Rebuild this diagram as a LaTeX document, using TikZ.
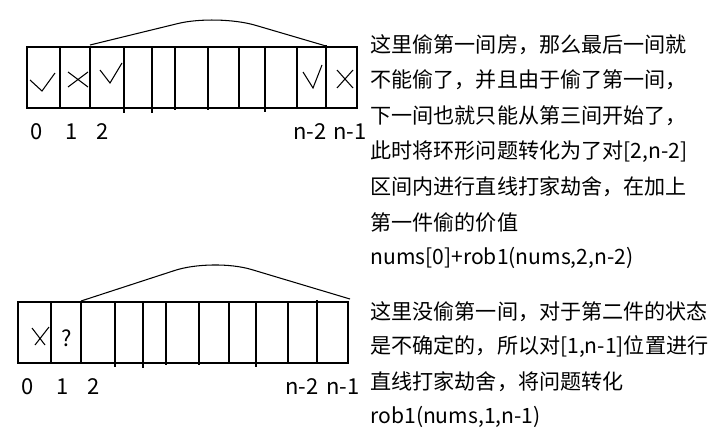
\documentclass[tikz,border=0pt]{standalone}
\usepackage{fontspec}
\setmainfont{Noto Sans CJK SC}
\usetikzlibrary{positioning}

\begin{document}
\begin{tikzpicture}[x=0.02cm,y=-0.02cm,line width=0.6pt,
    idx/.style={font=\fontsize{12.5}{14}\selectfont,inner sep=0pt},
    note/.style={anchor=west,font=\fontsize{12}{14}\selectfont,inner sep=0pt}]
  \useasboundingbox (0,0) rectangle (719,436);
  % first case: house 0 is robbed
  \draw (27,47) rectangle (357,108);
  \foreach \x/\b in {60/108,90/108,124/113,152/113,175/110,208/110,239/108,265/112,297/108}
    \draw (\x,47) -- (\x,\b);
  \draw (326,45) -- (326,107);
  \coordinate (a1) at (90,45);
  \coordinate (a2) at (326,46);
  \draw[rounded corners=0.8cm] (a1) -- (217,14) -- (a2);
  \draw (30,80) -- (42,91) -- (55,73);
  \draw (68,72) -- (88,87) (68,87) -- (88,72);
  \draw (100,70) -- (110,83) -- (122,63);
  \draw (303,72) -- (313,88) -- (322,65);
  \draw (337,70) -- (353,88) (337,88) -- (353,70);
  \node[idx] (i0) at (37,132) {0};
  \node[idx] (i1) at (72,132) {1};
  \node[idx] (i2) at (103,132) {2};
  \node[idx] (i3) at (310,132) {n-2};
  \node[idx] (i4) at (350,132) {n-1};
  \node[note] (p1) at (370,44.5) {这里偷第一间房，那么最后一间就};
  \node[note] (p2) at (370,80.1) {不能偷了，并且由于偷了第一间，};
  \node[note] (p3) at (370,115.7) {下一间也就只能从第三间开始了，};
  \node[note] (p4) at (370,151.3) {此时将环形问题转化为了对[2,n-2]};
  \node[note] (p5) at (370,186.9) {区间内进行直线打家劫舍，在加上};
  \node[note] (p6) at (370,222.5) {第一件偷的价值};
  \node[note] (p7) at (370,258.1) {nums[0]+rob1(nums,2,n-2)};
  % second case: house 0 is skipped
  \draw (18,302) rectangle (348,363);
  \foreach \x/\b in {51/363,81/363,115/367,143/368,166/365,199/365,229/363,256/367,288/363}
    \draw (\x,302) -- (\x,\b);
  \draw (317,300) -- (317,362);
  \coordinate (b1) at (81,301);
  \coordinate (b2) at (350,299);
  \draw[rounded corners=0.8cm] (b1) -- (213,258) -- (b2);
  \draw (32,328) -- (45,345) (35,345) -- (49,327);
  \node[idx] (q) at (67,338) {?};
  \node[idx] (j0) at (28,387) {0};
  \node[idx] (j1) at (63,387) {1};
  \node[idx] (j2) at (94,387) {2};
  \node[idx] (j3) at (302,387) {n-2};
  \node[idx] (j4) at (343,387) {n-1};
  \node[note] (r1) at (370,312) {这里没偷第一间，对于第二件的状态};
  \node[note] (r2) at (370,347) {是不确定的，所以对[1,n-1]位置进行};
  \node[note] (r3) at (370,382) {直线打家劫舍，将问题转化};
  \node[note] (r4) at (370,417) {rob1(nums,1,n-1)};
\end{tikzpicture}
\end{document}
